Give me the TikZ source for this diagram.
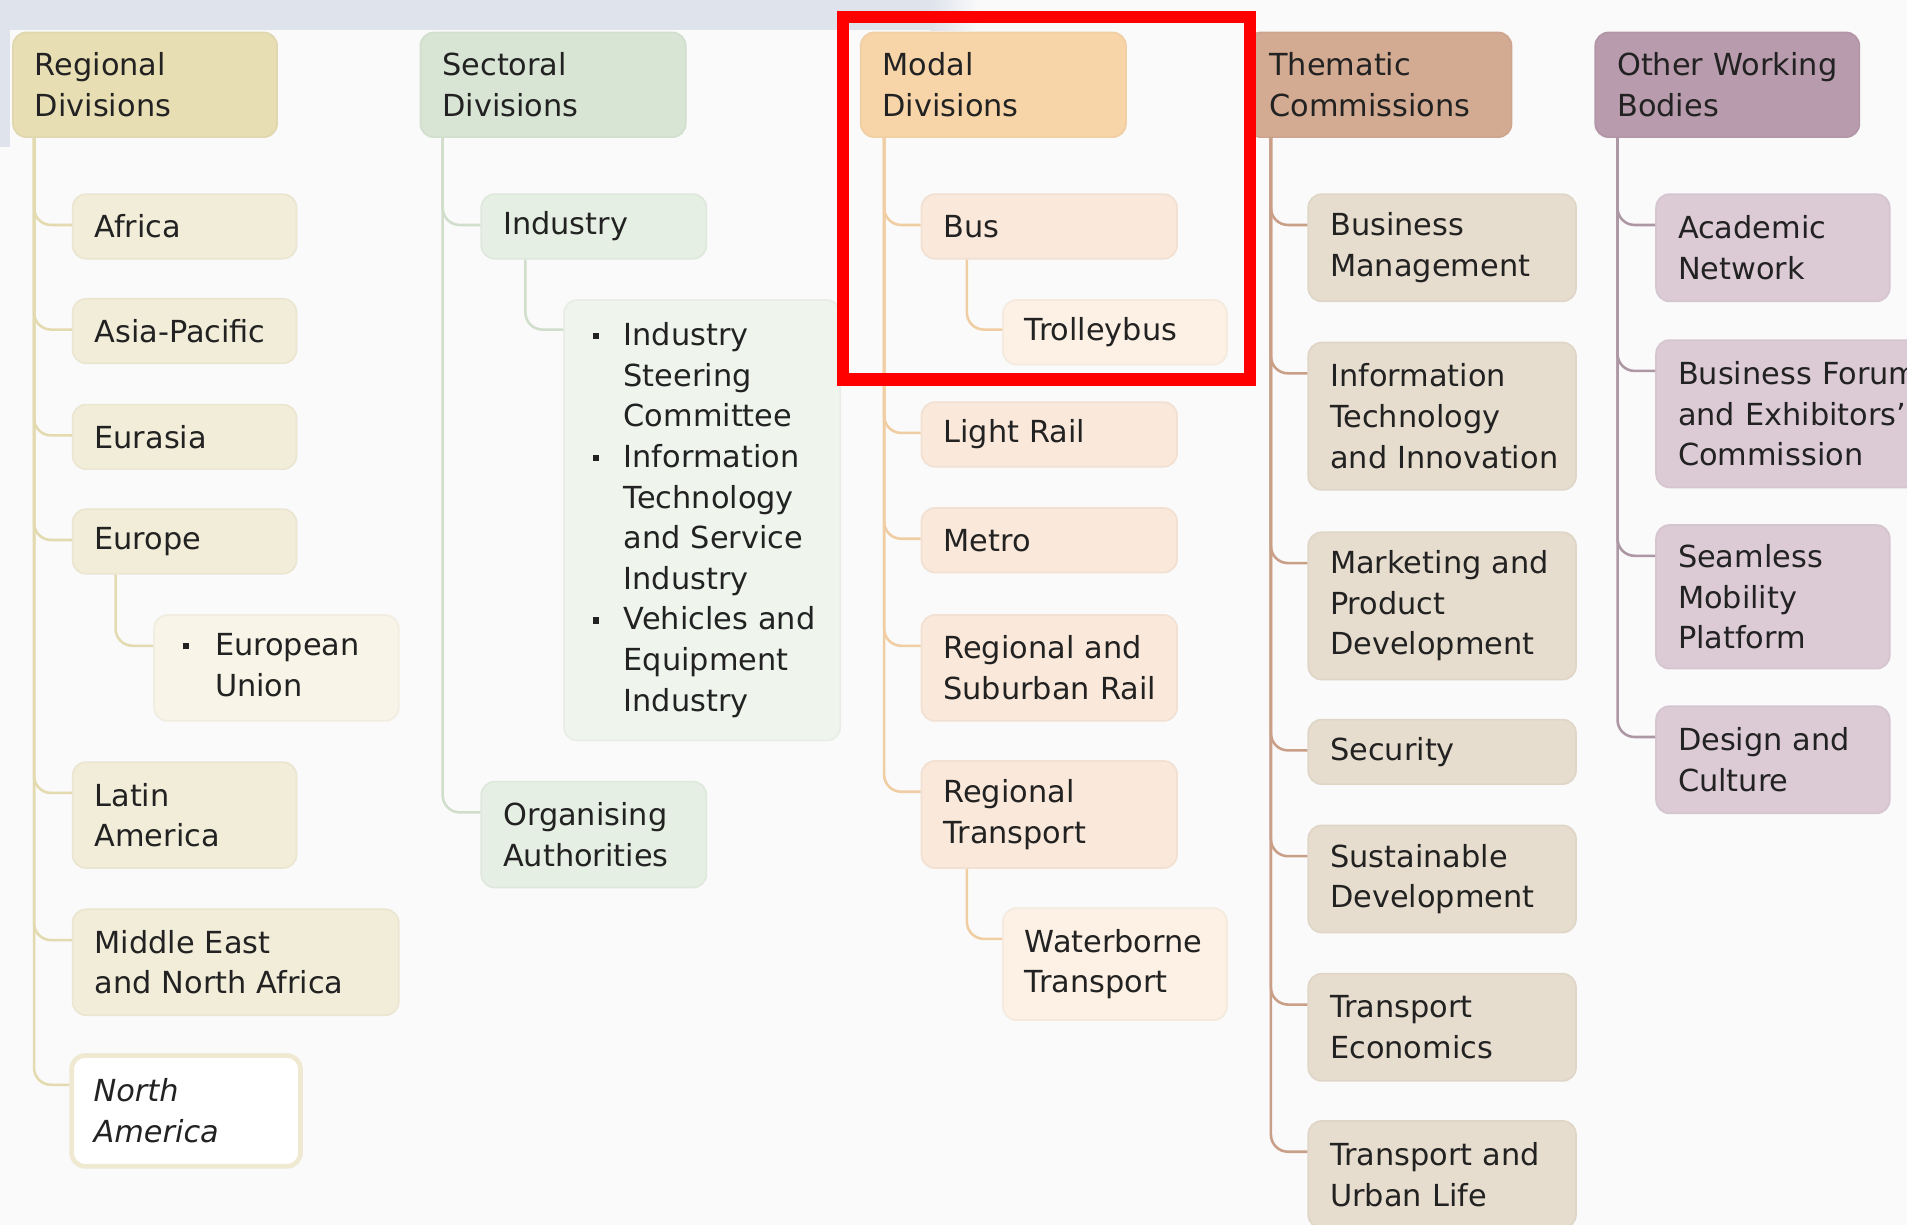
\documentclass[tikz,border=0pt]{standalone}
\usepackage{fontspec}
\setmainfont{DejaVu Sans}
\usetikzlibrary{calc}
\definecolor{bg}{HTML}{FAFAFA}
\definecolor{band}{HTML}{DFE3EC}
\definecolor{txt}{HTML}{222222}
\definecolor{regH}{HTML}{E8DEB4}
\definecolor{regC}{HTML}{F2EDD9}
\definecolor{regL}{HTML}{F8F5E8}
\definecolor{regB}{HTML}{EFE9D1}
\definecolor{regLine}{HTML}{E4DAB0}
\definecolor{secH}{HTML}{D8E5D4}
\definecolor{secC}{HTML}{E6EFE3}
\definecolor{secL}{HTML}{EFF5ED}
\definecolor{secLine}{HTML}{D0DECB}
\definecolor{modH}{HTML}{F7D5A9}
\definecolor{modC}{HTML}{FAE8DA}
\definecolor{modL}{HTML}{FCF1E4}
\definecolor{modLine}{HTML}{F0CDA2}
\definecolor{theH}{HTML}{D3AA92}
\definecolor{theC}{HTML}{E7DDCE}
\definecolor{theLine}{HTML}{C99F88}
\definecolor{othH}{HTML}{B89BAC}
\definecolor{othC}{HTML}{DCCBD5}
\definecolor{othLine}{HTML}{AE97A5}
\newcommand\fs{\fontsize{7.1}{9.5}\selectfont\hyphenpenalty=10000\exhyphenpenalty=10000}
\newcommand\bul{\raisebox{1.5pt}{\rule{1.45pt}{1.45pt}}}
\tikzset{
  bx/.style={rectangle, rounded corners=0.11cm, anchor=north west, inner xsep=0.18cm,
    inner ysep=0pt, align=left, font=\fs, text=txt, line width=0.4pt},
  one/.style={minimum height=0.53cm},
  two/.style={minimum height=0.87cm},
  three/.style={minimum height=1.21cm},
  fl/.style={fill=#1, draw=#1!97!black},
  lst/.style={inner xsep=0.235cm},
  conn/.style={line width=0.6pt, rounded corners=0.14cm},
}
\begin{document}
\begin{tikzpicture}[x=0.01cm, y=-0.01cm]
\useasboundingbox (0,0) rectangle (1568,1007);
\clip (0,0) rectangle (1568,1007);
\fill[bg] (0,0) rectangle (1568,1007);
\fill[band] (0,0) rectangle (765,25);
\shade[left color=band, right color=bg] (765,0) rectangle (805,25);
\fill[band] (0,0) rectangle (8,121);

% ---------- Regional ----------
\node[bx, fl=regH, text width=1.81cm, minimum height=0.86cm] (reg) at (10,26) {Regional\\Divisions};
\node[bx, fl=regC, one, text width=1.48cm] (afr) at (59,159) {Africa};
\node[bx, fl=regC, one, text width=1.48cm] (asp) at (59,245) {Asia-Pacific};
\node[bx, fl=regC, one, text width=1.48cm] (eus) at (59,332) {Eurasia};
\node[bx, fl=regC, one, text width=1.48cm] (euro) at (59,418) {Europe};
\node[bx, fl=regL, lst, two, text width=1.54cm] (eu) at (126,505)
  {\begin{tabular}{@{}l@{\hspace{0.215cm}}l@{}}\bul & European\\ & Union\end{tabular}};
\node[bx, fl=regC, two, text width=1.48cm] (lat) at (59,626) {Latin\\America};
\node[bx, fl=regC, two, text width=2.32cm] (mena) at (59,747) {Middle East\\and North Africa};
\node[bx, fill=white, draw=regB, line width=1.1pt, text width=1.52cm, minimum height=0.91cm, font=\fs\itshape] (nam) at (57,866) {North\\America};

\foreach \c in {afr,asp,eus,euro,lat,mena,nam}
  \draw[conn, regLine] ($(reg.south west)+(18,0)$) |- ($(\c.north west)+(0,26)$);
\draw[conn, regLine] ($(euro.south west)+(36,0)$) |- ($(eu.north west)+(0,26)$);

% ---------- Sectoral ----------
\node[bx, fl=secH, text width=1.82cm, minimum height=0.86cm] (sec) at (345,26) {Sectoral\\Divisions};
\node[bx, fl=secC, one, text width=1.49cm] (ind) at (395,159) {Industry};
\node[bx, fl=secL, lst, text width=1.80cm, minimum height=3.62cm] (indl) at (463,246)
  {\begin{tabular}{@{}l@{\hspace{0.205cm}}l@{}}
   \bul & Industry\\ & Steering\\ & Committee\\
   \bul & Information\\ & Technology\\ & and Service\\ & Industry\\
   \bul & Vehicles and\\ & Equipment\\ & Industry
   \end{tabular}};
\node[bx, fl=secC, two, text width=1.49cm] (org) at (395,642) {Organising\\Authorities};

\foreach \c in {ind,org}
  \draw[conn, secLine] ($(sec.south west)+(19,0)$) |- ($(\c.north west)+(0,26)$);
\draw[conn, secLine] ($(ind.south west)+(37,0)$) |- ($(indl.north west)+(0,25)$);

% ---------- Modal ----------
\node[bx, fl=modH, text width=1.82cm, minimum height=0.86cm] (mod) at (707,26) {Modal\\Divisions};
\node[bx, fl=modC, one, text width=1.74cm] (bus) at (757,159) {Bus};
\node[bx, fl=modL, one, text width=1.48cm] (trol) at (824,246) {Trolleybus};
\node[bx, fl=modC, one, text width=1.74cm] (lr) at (757,330) {Light Rail};
\node[bx, fl=modC, one, text width=1.74cm] (met) at (757,417) {Metro};
\node[bx, fl=modC, two, text width=1.74cm] (rsr) at (757,505) {Regional and\\\mbox{Suburban Rail}};
\node[bx, fl=modC, text width=1.74cm, minimum height=0.88cm] (rt) at (757,625) {Regional\\Transport};
\node[bx, fl=modL, text width=1.48cm, minimum height=0.92cm] (wt) at (824,746) {Waterborne\\Transport};

\foreach \c in {bus,lr,met,rsr,rt}
  \draw[conn, modLine] ($(mod.south west)+(20,0)$) |- ($(\c.north west)+(0,26)$);
\draw[conn, modLine] ($(bus.south west)+(38,0)$) |- ($(trol.north west)+(0,25)$);
\draw[conn, modLine] ($(rt.south west)+(38,0)$) |- ($(wt.north west)+(0,26)$);

% ---------- Thematic ----------
\node[bx, fl=theH, text width=1.81cm, minimum height=0.86cm] (the) at (1025,26) {Thematic\\Commissions};
\node[bx, fl=theC, text width=1.84cm, minimum height=0.88cm] (bm) at (1075,159) {Business\\Management};
\node[bx, fl=theC, three, text width=1.84cm] (iti) at (1075,281) {Information\\Technology\\\mbox{and Innovation}};
\node[bx, fl=theC, three, text width=1.84cm] (mpd) at (1075,437) {Marketing and\\Product\\Development};
\node[bx, fl=theC, one, text width=1.84cm] (scy) at (1075,591) {Security};
\node[bx, fl=theC, text width=1.84cm, minimum height=0.88cm] (sd) at (1075,678) {Sustainable\\Development};
\node[bx, fl=theC, text width=1.84cm, minimum height=0.88cm] (te) at (1075,800) {Transport\\Economics};
\node[bx, fl=theC, text width=1.84cm, minimum height=0.88cm] (tul) at (1075,921) {Transport and\\Urban Life};

\foreach \c in {bm,iti,mpd,scy,sd,te,tul}
  \draw[conn, theLine] ($(the.south west)+(20,0)$) |- ($(\c.north west)+(0,26)$);

% ---------- Other Working Bodies ----------
\node[bx, fl=othH, text width=1.81cm, minimum height=0.86cm] (oth) at (1311,26) {Other Working\\Bodies};
\node[bx, fl=othC, text width=1.56cm, minimum height=0.88cm] (an) at (1361,159) {Academic\\Network};
\node[bx, fl=othC, three, text width=2.10cm] (bf) at (1361,279) {Business Forum\\and Exhibitors’\\Commission};
\node[bx, fl=othC, text width=1.56cm, minimum height=1.18cm] (smp) at (1361,431) {Seamless\\Mobility\\Platform};
\node[bx, fl=othC, text width=1.56cm, minimum height=0.88cm] (dc) at (1361,580) {Design and\\Culture};

\foreach \c in {an,bf,smp,dc}
  \draw[conn, othLine] ($(oth.south west)+(19,0)$) |- ($(\c.north west)+(0,26)$);

% ---------- highlight ----------
\draw[red, line width=0.1cm] (693,14) rectangle (1028,312);
\end{tikzpicture}
\end{document}
